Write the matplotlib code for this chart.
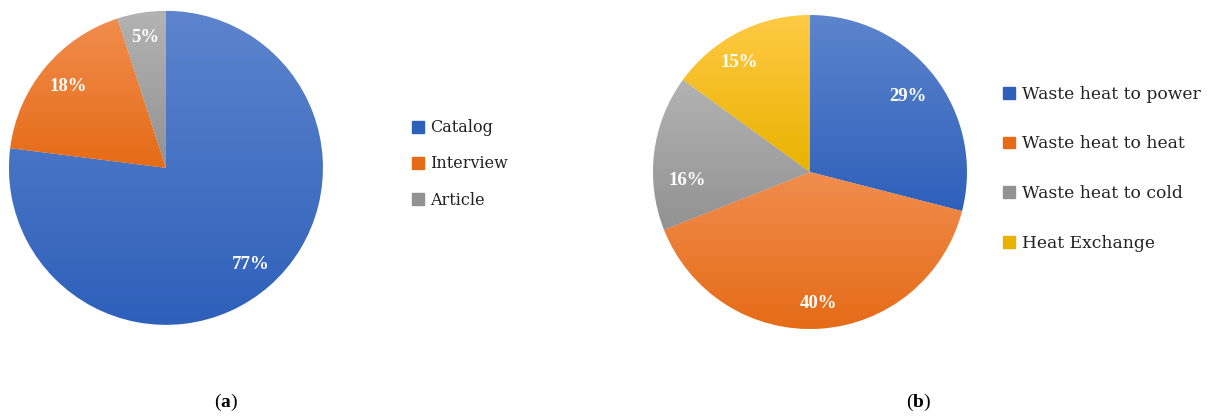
import numpy as np
import matplotlib
matplotlib.use("Agg")
import matplotlib.pyplot as plt
from matplotlib.colors import LinearSegmentedColormap
from matplotlib.patches import Patch

plt.rcParams['font.family'] = ['Liberation Serif', 'DejaVu Serif']

# data
labels_a = ['Catalog', 'Interview', 'Article']
values_a = [77, 18, 5]
labels_b = ['Waste heat to power', 'Waste heat to heat', 'Waste heat to cold', 'Heat Exchange']
values_b = [29, 40, 16, 15]

# (top colour, bottom colour) of each slice gradient
grad_a = [('#5d84cd', '#2e60ba'), ('#f18d4e', '#e56b16'), ('#b3b3b3', '#929292')]
grad_b = [('#5d84cd', '#2e60ba'), ('#f18d4e', '#e56b16'), ('#b3b3b3', '#929292'), ('#ffca45', '#e9b200')]
# label radius and angle nudge (deg) per slice
label_r_a = [0.82, 0.81, 0.84]
label_d_a = [0, 0, 0]
label_r_b = [0.79, 0.84, 0.785, 0.83]
label_d_b = [0, 0, 11, 6]


def gradient_pie(ax, values, grads, label_r, label_d):
    wedges, _ = ax.pie(values, startangle=90, counterclock=False, radius=1,
                       wedgeprops=dict(linewidth=0.6, edgecolor='#ffffff'))
    grad = np.linspace(1, 0, 256).reshape(-1, 1)
    for w, (top, bot) in zip(wedges, grads):
        verts = w.get_path().vertices
        x0, y0 = verts.min(axis=0)
        x1, y1 = verts.max(axis=0)
        cmap = LinearSegmentedColormap.from_list('g', [bot, top])
        im = ax.imshow(grad, cmap=cmap, extent=[x0, x1, y0, y1], aspect='auto',
                       zorder=w.get_zorder() + 0.1)
        im.set_clip_path(w)
        w.set_facecolor(bot)
    total = sum(values)
    start = 90.0
    for v, r, d in zip(values, label_r, label_d):
        ang = np.deg2rad(start - 360.0 * v / total / 2 + d)
        ax.text(r * np.cos(ang), r * np.sin(ang), f'{v}%', color='white',
                fontsize=13.5, fontweight='bold', ha='center', va='center', zorder=10)
        start -= 360.0 * v / total
    ax.set_xlim(-1, 1)
    ax.set_ylim(-1, 1)
    ax.set_aspect('equal')
    ax.axis('off')
    return wedges


fig = plt.figure(figsize=(12.12, 4.16), dpi=100)
ax1 = fig.add_axes([0.0074, 0.219, 0.259, 0.755])
ax2 = fig.add_axes([0.5388, 0.209, 0.259, 0.755])

gradient_pie(ax1, values_a, grad_a, label_r_a, label_d_a)
gradient_pie(ax2, values_b, grad_b, label_r_b, label_d_b)

h_a = [Patch(color=c[1]) for c in grad_a]
h_b = [Patch(color=c[1]) for c in grad_b]
fig.legend(h_a, labels_a, loc='center left', bbox_to_anchor=(0.328, 0.606),
           frameon=False, prop=dict(family='DejaVu Serif', size=11.5),
           handlelength=0.75, handleheight=0.75,
           handletextpad=0.4, labelspacing=1.2, labelcolor='#222222')
fig.legend(h_b, labels_b, loc='center left', bbox_to_anchor=(0.8150, 0.594),
           frameon=False, prop=dict(family='DejaVu Serif', size=12.3),
           handlelength=0.7, handleheight=0.7,
           handletextpad=0.4, labelspacing=1.92, labelcolor='#222222')

plt.rcParams['mathtext.fontset'] = 'custom'
plt.rcParams['mathtext.bf'] = 'Liberation Serif:bold'
fig.text(0.1865, 0.033, r'($\mathbf{a}$)', ha='center', va='center', fontsize=14)
fig.text(0.7575, 0.033, r'($\mathbf{b}$)', ha='center', va='center', fontsize=14)

fig.savefig('out.png', dpi=100)
